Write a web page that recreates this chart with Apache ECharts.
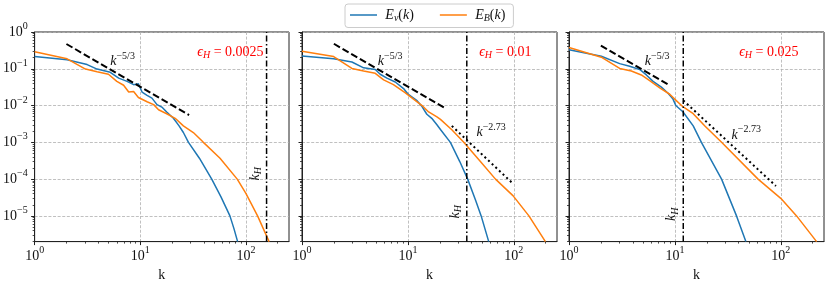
<!DOCTYPE html>
<html><head><meta charset="utf-8">
<script src="https://cdn.jsdelivr.net/npm/echarts@6/dist/echarts.min.js"></script>
<style>html,body{margin:0;padding:0;background:#fff}#c{width:830px;height:287px}</style>
</head><body><div id="c"></div>
<script>
// ---------- data ----------
// panel 1: eps_H = 0.0025
const kEv1 = [1, 2.03, 3.14, 3.9, 5.2, 6.25, 7.5, 8.65, 9.6, 10.4, 11.6, 12.9, 14.4, 16, 17.8, 20.6, 23.3, 25.6, 28.6, 36.3, 47.5, 58.1, 70.6, 77.1, 83.5];
const Ev1  = [0.215, 0.176, 0.13, 0.098, 0.080, 0.0557, 0.0455, 0.037, 0.039, 0.0233, 0.019, 0.0159, 0.0106, 0.0091, 0.0067, 0.0045, 0.0028, 0.00185, 0.001, 3.7e-4, 1e-4, 3.3e-5, 1e-5, 4.5e-6, 2e-6];
const kEB1 = [1, 2.03, 3.03, 3.9, 5.0, 6.0, 6.96, 7.77, 8.65, 9.6, 11.6, 13.4, 14.9, 17.8, 21.4, 25.6, 31.8, 39.6, 56.9, 82.8, 100, 129, 166];
const EB1  = [0.29, 0.187, 0.098, 0.083, 0.071, 0.0455, 0.0357, 0.0234, 0.024, 0.0166, 0.0127, 0.0106, 0.0077, 0.006, 0.0045, 0.0028, 0.00185, 0.001, 3.7e-4, 1e-4, 4.1e-5, 1e-5, 2e-6];
// panel 2: eps_H = 0.01
const kEv2 = [1, 1.99, 2.96, 3.82, 4.92, 5.48, 6.34, 7.6, 9.1, 10.1, 12.2, 13.6, 15.1, 16.8, 18.8, 20.3, 25.2, 30.9, 36.7, 43.5, 49.2, 58];
const Ev2  = [0.224, 0.187, 0.153, 0.106, 0.096, 0.071, 0.0557, 0.0437, 0.029, 0.020, 0.0136, 0.0094, 0.0058, 0.0045, 0.003, 0.00224, 0.001, 3.0e-4, 1e-4, 2.7e-5, 1e-5, 2e-6];
const kEB2 = [1, 1.99, 2.96, 3.82, 4.92, 5.9, 7.3, 9.4, 11.3, 13.6, 15.7, 18.8, 20.3, 26, 33.7, 48.4, 67.2, 98.7, 139, 199];
const EB2  = [0.298, 0.215, 0.102, 0.0868, 0.0753, 0.050, 0.037, 0.0224, 0.015, 0.01, 0.0067, 0.0049, 0.0042, 0.0022, 0.001, 3.0e-4, 1e-4, 3.5e-5, 1e-5, 2e-6];
// panel 3: eps_H = 0.025
const kEv3 = [1, 2.02, 3.01, 3.74, 4.65, 5.38, 6.22, 7.45, 8.62, 9.6, 10.2, 11.9, 14.9, 17.8, 27.6, 38.2, 46.8];
const Ev3  = [0.33, 0.22, 0.138, 0.117, 0.096, 0.068, 0.0455, 0.0316, 0.0216, 0.015, 0.01, 0.0068, 0.0028, 0.001, 1e-4, 1e-5, 2e-6];
const kEB3 = [1, 2.02, 3.01, 3.88, 4.82, 5.78, 7.19, 8.94, 9.96, 11.9, 14.9, 19.2, 27.6, 61, 100, 141, 218];
const EB3  = [0.38, 0.207, 0.102, 0.0868, 0.068, 0.0473, 0.0303, 0.0203, 0.015, 0.0093, 0.006, 0.00277, 0.001, 1e-4, 3.0e-5, 1e-5, 2e-6];
// reference power laws
const kK53 = [[2, 29], [2, 23], [2, 9]];
const EK53 = [[0.472, 0.0055], [0.479, 0.0082], [0.425, 0.0347]];
const kK273 = [null, [26, 97], [12, 90]];
const EK273 = [null, [0.0028, 7.8e-5], [0.0138, 6.5e-5]];
// k_H markers and labels
const kH = [157, 36, 12];
const epsLabels = ['0.0025', '0.01', '0.025'];
const xMajor = [1, 10, 100];
const xMinor = [2,3,4,5,6,7,8,9,20,30,40,50,60,70,80,90,200];
const yMajor = [1e-5, 1e-4, 1e-3, 1e-2, 1e-1, 1];
const X_MIN = 1, X_MAX = 256, Y_MIN = 2e-6, Y_MAX = 1;

// ---------- styling ----------
const SERIF = "'Liberation Serif','DejaVu Serif',serif";
const BLUE = '#1f77b4', ORANGE = '#ff7f0e', INK = '#111';
function richSet(color){
  const b = {fontFamily: SERIF, color: color, fontSize: 14};
  return {
    n: Object.assign({}, b),
    i: Object.assign({}, b, {fontStyle: 'italic'}),
    sup: Object.assign({}, b, {fontSize: 10, padding: [0,0,11,0]}),
    sub: Object.assign({}, b, {fontSize: 10, padding: [7,0,0,0]}),
    subi: Object.assign({}, b, {fontSize: 10, fontStyle: 'italic', padding: [7,0,0,0]})
  };
}
const RICH = richSet(INK), RICH_RED = richSet('#ff0000');
const yMinor = [];
for (let e = -6; e <= -1; e++) for (let m = 2; m <= 9; m++) { const v = m * Math.pow(10, e); if (v >= Y_MIN && v <= Y_MAX) yMinor.push(v); }

function powLabel(v){
  const e = Math.log10(v), r = Math.round(e);
  if (Math.abs(e - r) > 1e-6) return '';
  return '{n|10}{sup|' + (r < 0 ? '\u2212' + (-r) : r) + '}';
}
const zip = (a, b) => a.map((x, j) => [x, b[j]]);

const lefts = [34, 302, 569];
const grids = [], xAxes = [], yAxes = [], series = [];
const gridLine = {show: true, lineStyle: {color: '#b0b0b0', width: 0.8, type: [3, 1.6]}};
const axisLineS = {show: true, lineStyle: {color: '#222', width: 1}};

lefts.forEach((l, i) => {
  grids.push({left: l, top: 32, width: 255, height: 218, containLabel: false, show: true, borderColor: '#222', borderWidth: 1});
  xAxes.push({type: 'log', logBase: 10, gridIndex: i, min: X_MIN, max: X_MAX, position: 'bottom',
    name: 'k', nameLocation: 'middle', nameGap: 24,
    nameTextStyle: {fontFamily: SERIF, fontSize: 14, color: INK},
    axisLine: axisLineS,
    axisTick: {show: true, length: 3.5, customValues: xMajor, lineStyle: {color: '#222'}},
    axisLabel: {show: true, margin: 4, customValues: xMajor, formatter: powLabel, rich: RICH},
    splitLine: gridLine, minorTick: {show: false}});
  yAxes.push({type: 'log', logBase: 10, gridIndex: i, min: Y_MIN, max: Y_MAX, position: 'left',
    axisLine: axisLineS,
    axisTick: {show: true, length: 3.5, customValues: yMajor, lineStyle: {color: '#222'}},
    axisLabel: {show: i === 0, margin: 7, customValues: yMajor, formatter: powLabel, rich: RICH},
    splitLine: gridLine});
});
// minor tick axes
lefts.forEach((l, i) => {
  xAxes.push({type: 'log', logBase: 10, gridIndex: i, min: X_MIN, max: X_MAX, position: 'bottom',
    axisLine: {show: false}, axisLabel: {show: false}, splitLine: {show: false},
    axisTick: {show: true, length: 2, customValues: xMinor, lineStyle: {color: '#222', width: 0.8}}});
  yAxes.push({type: 'log', logBase: 10, gridIndex: i, min: Y_MIN, max: Y_MAX, position: 'left',
    axisLine: {show: false}, axisLabel: {show: false}, splitLine: {show: false},
    axisTick: {show: true, length: 2, customValues: yMinor, lineStyle: {color: '#222', width: 0.8}}});
});

const kEv = [kEv1, kEv2, kEv3], Ev = [Ev1, Ev2, Ev3], kEB = [kEB1, kEB2, kEB3], EB = [EB1, EB2, EB3];
for (let i = 0; i < 3; i++) {
  const ax = {xAxisIndex: i, yAxisIndex: i};
  series.push(Object.assign({type: 'line', name: 'Ev', data: zip(kEv[i], Ev[i]), symbol: 'none', showSymbol: false,
    lineStyle: {color: BLUE, width: 1.5}, itemStyle: {color: BLUE}, z: 3, animation: false}, ax));
  series.push(Object.assign({type: 'line', name: 'EB', data: zip(kEB[i], EB[i]), symbol: 'none', showSymbol: false,
    lineStyle: {color: ORANGE, width: 1.5}, itemStyle: {color: ORANGE}, z: 3, animation: false}, ax));
  series.push(Object.assign({type: 'line', name: 'k53_' + i, data: zip(kK53[i], EK53[i]), symbol: 'none',
    lineStyle: {color: '#000', width: 2, type: [7, 3]}, z: 4, animation: false}, ax));
  if (kK273[i]) series.push(Object.assign({type: 'line', name: 'k273_' + i, data: zip(kK273[i], EK273[i]), symbol: 'none',
    lineStyle: {color: '#000', width: 2, type: [2, 3]}, z: 4, animation: false}, ax));
  series.push(Object.assign({type: 'line', name: 'kH_' + i, data: [[kH[i], Y_MIN], [kH[i], Y_MAX]], symbol: 'none',
    lineStyle: {color: '#000', width: 1.5, type: [6, 2.5, 1.5, 2.5]}, z: 4, animation: false}, ax));
}

const chart = echarts.init(document.getElementById('c'), null, {renderer: 'canvas'});
chart.setOption({
  animation: false,
  backgroundColor: '#fff',
  grid: grids, xAxis: xAxes, yAxis: yAxes, series: series,
  legend: {data: [{name: 'Ev', icon: 'rect'}, {name: 'EB', icon: 'rect'}], left: 345, top: 4, orient: 'horizontal',
    itemWidth: 27, itemHeight: 1.5, itemGap: 26,
    padding: [4, 8, 4, 5], borderColor: '#cccccc', borderWidth: 1, borderRadius: 3, backgroundColor: 'rgba(255,255,255,0.8)',
    formatter: n => n === 'Ev' ? ' {i|E}{subi|v}{n|(}{i|k}{n|)}' : ' {i|E}{subi|B}{n|(}{i|k}{n|)}',
    textStyle: {rich: RICH}, selectedMode: false}
});

// ---------- annotations placed at data coordinates ----------
const k53Pos = [5.2, 0.157];
const k273Pos = [null, [44.4, 1.85e-3], [34.3, 1.58e-3]];
const kHLabelE = [1.4e-4, 1.3e-5, 1.1e-5];
const epsPos = [147, 0.287];
const graphics = [];
function addText(i, coord, text, rich, align, vAlign, dx, rot){
  const p = chart.convertToPixel({xAxisIndex: i, yAxisIndex: i}, coord);
  graphics.push({type: 'text', x: p[0] + (dx || 0), y: p[1], rotation: rot || 0, z: 10, silent: true,
    style: {text: text, rich: rich, align: align, verticalAlign: vAlign, textAlign: align, textVerticalAlign: vAlign,
      fontFamily: SERIF, fontSize: 14, fill: rich === RICH_RED ? '#ff0000' : INK}});
}
for (let i = 0; i < 3; i++) {
  addText(i, epsPos, '{i|\u03f5}{subi|H}{n| = ' + epsLabels[i] + '}', RICH_RED, 'right', 'middle');
  addText(i, k53Pos, '{i|k}{sup|\u22125/3}', RICH, 'left', 'middle');
  if (k273Pos[i]) addText(i, k273Pos[i], '{i|k}{sup|\u22122.73}', RICH, 'left', 'middle');
  addText(i, [kH[i], kHLabelE[i]], '{i|k}{subi|H}', RICH, 'center', 'bottom', -3, Math.PI / 2);
}
chart.setOption({graphic: graphics});
</script></body></html>
